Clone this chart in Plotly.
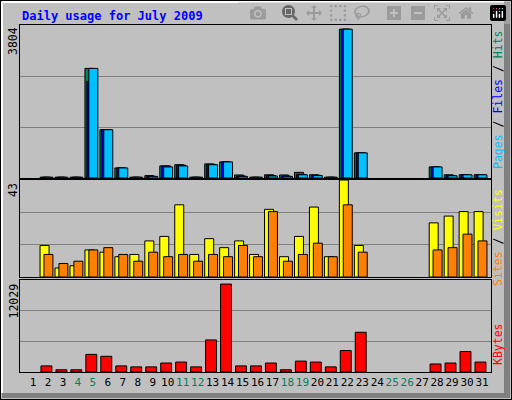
import plotly.graph_objects as go
from plotly.subplots import make_subplots

W, H = 512, 400

days = list(range(1, 32))
weekend = [4, 5, 11, 12, 18, 19, 25, 26]

hits = [0, 20, 20, 20, 2725, 1200, 250, 20, 60, 300, 330, 20, 350, 400, 75, 20,
        80, 75, 140, 80, 20, 3700, 625, 0, 0, 0, 0, 275, 80, 80, 80]
files = [0, 20, 20, 20, 2400, 1200, 250, 20, 40, 300, 320, 20, 340, 400, 50, 20,
         60, 50, 90, 70, 20, 3700, 625, 0, 0, 0, 0, 275, 60, 80, 80]
pages = [0, 20, 20, 20, 2725, 1200, 250, 20, 40, 275, 300, 20, 330, 400, 40, 20,
         50, 40, 80, 60, 20, 3700, 625, 0, 0, 0, 0, 275, 55, 80, 80]
visits = [0, 14, 4, 5, 12, 11, 9, 10, 16, 18, 32, 10, 17, 13, 16, 10,
          30, 9, 18, 31, 9, 43, 14, 0, 0, 0, 0, 24, 27, 29, 29]
sites = [0, 10, 6, 7, 12, 13, 10, 7, 11, 9, 10, 7, 10, 9, 14, 9,
         29, 7, 10, 15, 9, 32, 11, 0, 0, 0, 0, 12, 13, 19, 16]
kbytes = [0, 796, 293, 293, 2305, 2053, 796, 670, 670, 1173, 1299, 670, 4190, 11500, 796, 796,
          1173, 293, 1425, 1299, 670, 2807, 5196, 0, 0, 0, 0, 1047, 1173, 2682, 1299]

MAX_HITS, MAX_VISITS, MAX_KB = 3804, 43, 12029

GREEN, BLUE, CYAN = "#00805c", "#0000ff", "#00c0ff"
YELLOW, ORANGE, RED = "#ffff00", "#ff8000", "#ff0000"
BG = "#c0c0c0"
FONT = "DejaVu Sans Mono, Liberation Mono, monospace"

fig = make_subplots(rows=3, cols=1, shared_xaxes=True)


def bars(y, color, offset, width, row):
    # zeros are skipped so empty days show nothing
    yy = [v if v > 0 else None for v in y]
    fig.add_trace(go.Bar(x=days, y=yy, offset=offset, width=width,
                         marker=dict(color=color, line=dict(color="black", width=1)),
                         showlegend=False, hoverinfo="skip"), row=row, col=1)


bars(hits, GREEN, -0.53, 0.6, 1)
bars(files, BLUE, -0.4, 0.6, 1)
bars(pages, CYAN, -0.27, 0.6, 1)
bars(visits, YELLOW, -0.53, 0.6, 2)
bars(sites, ORANGE, -0.27, 0.6, 2)
bars(kbytes, RED, -0.47, 0.73, 3)


def py(px):
    return 1 - px / H


xdom = [20 / W, 491 / W]
panels = [(25, 178, MAX_HITS), (180, 277, MAX_VISITS), (280, 372, MAX_KB)]
for i, (top, bot, mx) in enumerate(panels, start=1):
    fig.update_yaxes(row=i, col=1, domain=[py(bot), py(top)], range=[0, mx],
                     tickvals=[mx / 3, 2 * mx / 3], showticklabels=False,
                     gridcolor="#808080", gridwidth=1, zeroline=False,
                     showline=True, linecolor="black", mirror=True, ticks="")
    fig.update_xaxes(row=i, col=1, domain=xdom, range=[0.13, 31.6],
                     showgrid=False, zeroline=False, showline=True,
                     linecolor="black", mirror=True, ticks="")

ticktext = [f"<span style='color:{GREEN}'>{d}</span>" if d in weekend else str(d) for d in days]
fig.update_xaxes(row=3, col=1, tickvals=days, ticktext=ticktext, showticklabels=True,
                 tickangle=0, tickfont=dict(family=FONT, size=11, color="black"))

ann = [
    dict(text="<b>Daily usage for July 2009</b>", x=20 / W, y=py(16), xanchor="left",
         yanchor="middle", font=dict(family=FONT, size=12, color="#0000ff")),
    dict(text="3804", x=13 / W, y=py(25), textangle=-90, xanchor="center", yanchor="top"),
    dict(text="43", x=13 / W, y=py(181), textangle=-90, xanchor="center", yanchor="top"),
    dict(text="12029", x=13 / W, y=py(282), textangle=-90, xanchor="center", yanchor="top"),
    dict(text=f"<span style='color:{CYAN}'>Pages</span> / <span style='color:{BLUE}'>Files</span>"
              f" / <span style='color:{GREEN}'>Hits</span>",
         x=498 / W, y=py(100), textangle=-90, xanchor="center", yanchor="middle"),
    dict(text=f"<span style='color:{ORANGE}'>Sites</span> / <span style='color:{YELLOW}'>Visits</span>",
         x=498 / W, y=py(238), textangle=-90, xanchor="center", yanchor="middle"),
    dict(text=f"<span style='color:{RED}'>KBytes</span>",
         x=498 / W, y=py(344), textangle=-90, xanchor="center", yanchor="middle"),
]
for a in ann:
    a.setdefault("font", dict(family=FONT, size=11.5, color="black"))
    a.update(xref="paper", yref="paper", showarrow=False)

shapes = [
    dict(type="rect", x0=504 / W, x1=510 / W, y0=py(398), y1=py(2), fillcolor="#808080", line_width=0),
    dict(type="rect", x0=2 / W, x1=510 / W, y0=py(398), y1=py(393), fillcolor="#808080", line_width=0),
    dict(type="line", x0=2 / W, x1=2 / W, y0=py(393), y1=py(2), line=dict(color="white", width=2)),
    dict(type="line", x0=2 / W, x1=504 / W, y0=py(2), y1=py(2), line=dict(color="white", width=2)),
    dict(type="rect", x0=0, x1=1, y0=0, y1=1, line=dict(color="black", width=2)),
]
for s in shapes:
    s.update(xref="paper", yref="paper", layer="below" if s["type"] == "rect" and s.get("fillcolor") else "above")

fig.update_layout(
    width=W, height=H, margin=dict(l=0, r=0, t=0, b=0),
    paper_bgcolor=BG, plot_bgcolor=BG, barmode="overlay",
    annotations=ann, shapes=shapes,
    font=dict(family=FONT, size=11.5, color="black"),
)

# the page's default body margin would push the chart 8px off the window
fig.write_html("out.html",
               post_script="document.body.style.margin='0';document.body.style.overflow='hidden';")
